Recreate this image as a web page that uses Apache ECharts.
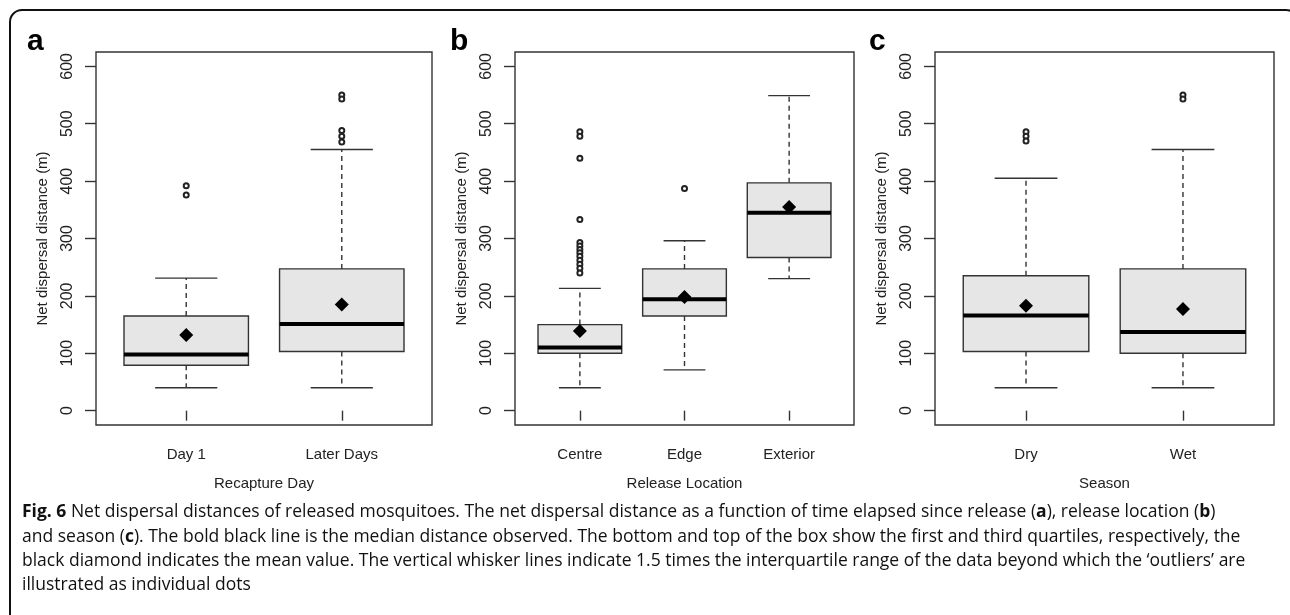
<!DOCTYPE html>
<html>
<head>
<meta charset="utf-8">
<title>Fig. 6 Net dispersal distances</title>
<script src="https://cdn.jsdelivr.net/npm/echarts@6/dist/echarts.min.js"></script>
<style>
  html, body { margin: 0; padding: 0; background: #fff; }
  #chart { width: 1290px; height: 615px; }
</style>
</head>
<body>
<div id="chart"></div>
<script>
// values: [lower whisker, Q1, median, Q3, upper whisker]
const groupsA = ['Day 1', 'Later Days'];
const statsA = [[40, 79, 98, 165, 231], [40, 103, 151, 247, 455]];
const meansA = [132, 185];
const outliersA = [[392, 376], [550, 543, 488, 478, 468]];

const groupsB = ['Centre', 'Edge', 'Exterior'];
const statsB = [[40, 100, 110, 150, 213], [71, 165, 194, 247, 296], [230, 267, 345, 397, 549]];
const meansB = [139, 198, 355];
const outliersB = [[486, 478, 440, 333, 293, 287, 281, 275, 269, 262, 255, 248, 240], [387], []];

const groupsC = ['Dry', 'Wet'];
const statsC = [[40, 103, 166, 235, 405], [40, 100, 137, 247, 455]];
const meansC = [183, 177];
const outliersC = [[486, 478, 470], [550, 543]];

const yTicks = [0, 100, 200, 300, 400, 500, 600];

const panels = [
  { letter: 'a', groups: groupsA, stats: statsA, means: meansA, outliers: outliersA, title: 'Recapture Day', left: 96, width: 336, letterX: 27 },
  { letter: 'b', groups: groupsB, stats: statsB, means: meansB, outliers: outliersB, title: 'Release Location', left: 515, width: 339, letterX: 450 },
  { letter: 'c', groups: groupsC, stats: statsC, means: meansC, outliers: outliersC, title: 'Season', left: 935, width: 339, letterX: 869 }
];

const ink = '#222';
const font = '"Liberation Sans", Arial, sans-serif';

function renderBox(params, api) {
  const x = api.value(0);
  const lo = api.coord([x, api.value(1)]);
  const q1 = api.coord([x, api.value(2)]);
  const med = api.coord([x, api.value(3)]);
  const q3 = api.coord([x, api.value(4)]);
  const hi = api.coord([x, api.value(5)]);
  const w = api.size([0.8, 0])[0];
  const cx = lo[0];
  const thin = { stroke: '#333', lineWidth: 1.4 };
  const dash = { stroke: '#333', lineWidth: 1.4, lineDash: [5, 4] };
  return {
    type: 'group',
    children: [
      { type: 'line', shape: { x1: cx, y1: q3[1], x2: cx, y2: hi[1] }, style: dash },
      { type: 'line', shape: { x1: cx, y1: q1[1], x2: cx, y2: lo[1] }, style: dash },
      { type: 'line', shape: { x1: cx - w / 4, y1: hi[1], x2: cx + w / 4, y2: hi[1] }, style: thin },
      { type: 'line', shape: { x1: cx - w / 4, y1: lo[1], x2: cx + w / 4, y2: lo[1] }, style: thin },
      { type: 'rect', shape: { x: cx - w / 2, y: q3[1], width: w, height: q1[1] - q3[1] },
        style: { fill: '#e6e6e6', stroke: '#333', lineWidth: 1.4 } },
      { type: 'line', shape: { x1: cx - w / 2, y1: med[1], x2: cx + w / 2, y2: med[1] },
        style: { stroke: '#000', lineWidth: 4 } }
    ]
  };
}

const grid = [], xAxis = [], yAxis = [], series = [], graphic = [];

panels.forEach((p, k) => {
  const n = p.groups.length;
  const pad = 0.04 * n;
  grid.push({ left: p.left, width: p.width, top: 52, height: 373, show: true,
    borderColor: '#333', borderWidth: 1.4, backgroundColor: 'transparent' });
  xAxis.push({
    type: 'value', gridIndex: k, min: 0.5 - pad, max: n + 0.5 + pad,
    name: p.title, nameLocation: 'middle', nameGap: 51,
    nameTextStyle: { color: ink, fontSize: 15, fontFamily: font },
    axisLine: { show: false }, splitLine: { show: false },
    axisTick: { show: true, length: 10, lineStyle: { color: '#333', width: 1.4 },
      customValues: p.groups.map((g, i) => i + 1) },
    axisLabel: { color: ink, fontSize: 15, fontFamily: font, margin: 22,
      customValues: p.groups.map((g, i) => i + 1),
      formatter: v => p.groups[Math.round(v) - 1] || '' }
  });
  yAxis.push({
    type: 'value', gridIndex: k, min: -25, max: 625,
    name: 'Net dispersal distance (m)', nameLocation: 'middle', nameGap: 46,
    nameTextStyle: { color: ink, fontSize: 15, fontFamily: font },
    axisLine: { show: false }, splitLine: { show: false },
    axisTick: { show: true, length: 11, lineStyle: { color: '#333', width: 1.4 }, customValues: yTicks },
    axisLabel: { color: ink, fontSize: 16, fontFamily: font, rotate: 90, margin: 20, customValues: yTicks }
  });
  series.push({
    type: 'custom', xAxisIndex: k, yAxisIndex: k, z: 2,
    renderItem: renderBox,
    data: p.stats.map((s, i) => [i + 1].concat(s))
  });
  const outPts = [];
  p.outliers.forEach((arr, i) => arr.forEach(v => outPts.push([i + 1, v])));
  series.push({
    type: 'scatter', xAxisIndex: k, yAxisIndex: k, z: 3,
    symbol: 'emptyCircle', symbolSize: 5,
    itemStyle: { color: '#222', borderColor: '#222', borderWidth: 1.1, opacity: 1 },
    data: outPts
  });
  series.push({
    type: 'scatter', xAxisIndex: k, yAxisIndex: k, z: 4,
    symbol: 'diamond', symbolSize: 14,
    itemStyle: { color: '#000', opacity: 1 },
    data: p.means.map((m, i) => [i + 1, m])
  });
  graphic.push({ type: 'text', left: p.letterX, top: 27,
    style: { text: p.letter, font: 'bold 30px ' + font, fill: '#000' } });
});

// outer frame and caption
graphic.push({ type: 'rect', shape: { x: 10, y: 10, width: 1288, height: 660, r: 12 },
  style: { fill: 'none', stroke: '#111', lineWidth: 2 }, z: -1 });

const captionLines = [
  '{b|Fig. 6} Net dispersal distances of released mosquitoes. The net dispersal distance as a function of time elapsed since release ({b|a}), release location ({b|b})',
  'and season ({b|c}). The bold black line is the median distance observed. The bottom and top of the box show the first and third quartiles, respectively, the',
  'black diamond indicates the mean value. The vertical whisker lines indicate 1.5 times the interquartile range of the data beyond which the \u2018outliers\u2019 are',
  'illustrated as individual dots'
];
const captionY = [512, 537, 561, 585];
const capFont = '"Open Sans", sans-serif';
captionLines.forEach((t, i) => {
  graphic.push({ type: 'text', x: 22, y: captionY[i],
    style: { text: t, fill: '#111', fontSize: 17.5, fontFamily: capFont, verticalAlign: 'middle',
      rich: { b: { fontWeight: 'bold', fontSize: 17.5, fontFamily: capFont, fill: '#111' } } } });
});

const chart = echarts.init(document.getElementById('chart'), null, { renderer: 'canvas' });
chart.setOption({
  animation: false,
  backgroundColor: '#fff',
  grid: grid,
  xAxis: xAxis,
  yAxis: yAxis,
  series: series,
  graphic: graphic
});
</script>
</body>
</html>
